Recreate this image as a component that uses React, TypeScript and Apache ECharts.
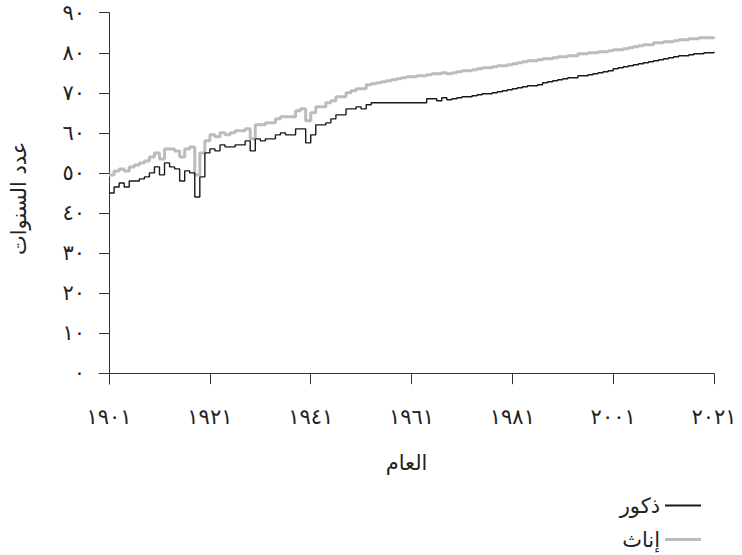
import React, { useEffect, useRef } from "react";
import * as echarts from "echarts";

const years: number[] = [];
for (let y = 1901; y <= 2021; y++) years.push(y);

const maleValues = [
  45.0, 46.5, 47.5, 46.5, 48.0, 48.0, 48.5, 49.0, 50.0, 51.5,
  49.5, 52.5, 51.5, 51.0, 48.0, 50.5, 50.0, 44.0, 49.0, 55.0,
  56.0, 55.5, 57.0, 56.5, 56.5, 57.0, 57.0, 58.0, 55.5, 58.5,
  58.0, 58.5, 58.5, 59.5, 60.0, 59.5, 59.5, 61.0, 61.0, 57.5,
  59.5, 62.0, 62.0, 62.5, 63.5, 64.5, 64.5, 66.0, 66.0, 66.5,
  66.0, 67.0, 67.5, 67.5, 67.5, 67.5, 67.5, 67.5, 67.5, 67.5,
  67.5, 67.5, 67.5, 68.5, 68.5, 68.0, 68.75, 68.25, 68.5, 68.75,
  69.0, 69.0, 69.25, 69.5, 69.75, 69.75, 70.0, 70.25, 70.5, 70.75,
  71.0, 71.25, 71.5, 71.75, 71.75, 72.0, 72.5, 72.75, 73.0, 73.25,
  73.5, 73.75, 73.75, 74.25, 74.25, 74.5, 74.75, 75.0, 75.25, 75.5,
  76.0, 76.25, 76.5, 76.75, 77.0, 77.25, 77.5, 77.75, 78.0, 78.25,
  78.5, 78.75, 79.0, 79.25, 79.25, 79.5, 79.75, 79.75, 80.0, 80.0,
  80.25,
];

const femaleValues = [
  49.5, 50.5, 51.0, 50.5, 51.5, 52.0, 52.5, 53.0, 54.0, 55.0,
  53.5, 56.0, 56.0, 55.5, 54.0, 56.0, 56.5, 49.5, 55.0, 58.0,
  59.5, 59.0, 60.0, 59.5, 60.0, 60.5, 60.5, 61.0, 58.5, 62.0,
  62.0, 62.5, 62.5, 63.5, 64.0, 64.0, 64.0, 65.5, 66.0, 63.0,
  65.0, 66.5, 66.5, 67.5, 68.0, 69.0, 69.0, 70.0, 70.5, 71.0,
  71.0, 72.0, 72.25, 72.5, 72.75, 73.0, 73.25, 73.5, 73.75, 74.0,
  74.0, 74.25, 74.25, 74.5, 74.75, 74.75, 75.0, 74.75, 75.0, 75.25,
  75.5, 75.5, 75.75, 76.0, 76.25, 76.25, 76.5, 76.75, 76.75, 77.0,
  77.25, 77.5, 77.75, 78.0, 78.0, 78.25, 78.5, 78.5, 78.75, 79.0,
  79.0, 79.25, 79.25, 79.75, 79.75, 80.0, 80.0, 80.25, 80.25, 80.5,
  80.75, 80.75, 81.0, 81.25, 81.5, 81.75, 82.0, 82.0, 82.5, 82.5,
  82.75, 82.75, 83.0, 83.25, 83.25, 83.5, 83.5, 83.75, 83.75, 83.75,
  84.0,
];

const xTicks = [1901, 1921, 1941, 1961, 1981, 2001, 2021];
const yTicks = [0, 10, 20, 30, 40, 50, 60, 70, 80, 90];

const seriesNames = ["ذكور", "إناث"];
const xTitle = "العام";
const yTitle = "عدد السنوات";

const arabicDigits = "٠١٢٣٤٥٦٧٨٩";
const toArabic = (n: number) =>
  String(n).replace(/[0-9]/g, (d) => arabicDigits[Number(d)]);

const FONT = "DejaVu Sans";
const FS = 21;
const MALE_COLOR = "#1a1a1a";
const FEMALE_COLOR = "#bcbcbc";

export default function App() {
  const ref = useRef<HTMLDivElement>(null);
  useEffect(() => {
    document.body.style.margin = "0";
    if (!ref.current) return;
    const chart = echarts.init(ref.current, undefined, { renderer: "svg" });
    const legendBase = {
      orient: "vertical",
      right: 36,
      align: "right",
      itemWidth: 36,
      itemGap: 10,
      icon: "rect",
      textStyle: { fontFamily: FONT, fontSize: FS, color: "#222" },
    };
    chart.setOption({
      animation: false,
      backgroundColor: "#ffffff",
      textStyle: { fontFamily: FONT },
      grid: { left: 98, right: 28, top: 12.7, bottom: 171 },
      legend: [
        {
          ...legendBase,
          top: 490,
          itemHeight: 2,
          data: [seriesNames[0]],
        },
        {
          ...legendBase,
          top: 524,
          itemHeight: 3,
          data: [seriesNames[1]],
        },
      ],
      xAxis: {
        type: "value",
        min: 1899,
        max: 2021,
        name: xTitle,
        nameLocation: "middle",
        nameGap: 68,
        nameTextStyle: { fontFamily: FONT, fontSize: FS, color: "#222" },
        axisLine: { onZero: true, lineStyle: { color: "#333", width: 1 } },
        axisTick: {
          show: true,
          length: 11,
          customValues: xTicks,
          lineStyle: { color: "#333", width: 1 },
        },
        axisLabel: {
          customValues: xTicks,
          margin: 22,
          fontFamily: FONT,
          fontSize: FS,
          color: "#222",
          formatter: (v: number) => toArabic(v),
        },
        splitLine: { show: false },
      },
      yAxis: {
        type: "value",
        min: -2.7,
        max: 90,
        offset: -10,
        name: yTitle,
        nameLocation: "middle",
        nameGap: 80,
        nameRotate: 90,
        nameTextStyle: { fontFamily: FONT, fontSize: FS, color: "#222" },
        axisLine: { show: true, onZero: false, lineStyle: { color: "#333", width: 1 } },
        axisTick: {
          show: true,
          length: 10,
          customValues: yTicks,
          lineStyle: { color: "#333", width: 1 },
        },
        axisLabel: {
          customValues: yTicks,
          margin: 24,
          fontFamily: FONT,
          fontSize: FS,
          color: "#222",
          formatter: (v: number) => toArabic(v),
        },
        splitLine: { show: false },
      },
      series: [
        {
          name: seriesNames[0],
          type: "line",
          step: "end",
          symbol: "none",
          data: years.map((y, i) => [y, maleValues[i]]),
          lineStyle: { color: MALE_COLOR, width: 1.4 },
          itemStyle: { color: MALE_COLOR },
          z: 3,
        },
        {
          name: seriesNames[1],
          type: "line",
          step: "end",
          symbol: "none",
          data: years.map((y, i) => [y, femaleValues[i]]),
          lineStyle: { color: FEMALE_COLOR, width: 3 },
          itemStyle: { color: FEMALE_COLOR },
          z: 2,
        },
      ],
    });
    return () => chart.dispose();
  }, []);
  return <div ref={ref} style={{ width: 742, height: 555 }} />;
}
